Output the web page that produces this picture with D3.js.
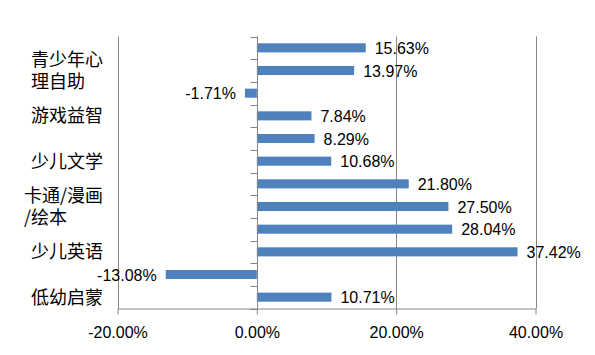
<!DOCTYPE html>
<html>
<head>
<meta charset="utf-8">
<script src="https://cdn.jsdelivr.net/npm/d3@7"></script>
<style>
  html, body { margin: 0; padding: 0; background: #fff; }
  svg { display: block; }
</style>
</head>
<body>
<svg id="chart" width="595" height="355"></svg>
<script>
// Categories listed top to bottom. The original only prints every other
// category label; the hidden ones are given placeholder names.
const categories = [
  "少儿科普百科", "青少年心理自助", "少儿艺术", "游戏益智", "少儿国学", "少儿文学",
  "智力开发", "卡通/漫画/绘本", "幼儿园教材", "少儿英语", "其他", "低幼启蒙"
];
const shownLabels = [
  "", "青少年心理自助", "", "游戏益智", "", "少儿文学",
  "", "卡通/漫画/绘本", "", "少儿英语", "", "低幼启蒙"
];
const values = [
  0.1563, 0.1397, -0.0171, 0.0784, 0.0829, 0.1068,
  0.2180, 0.2750, 0.2804, 0.3742, -0.1308, 0.1071
];
const xTicks = [-0.2, 0, 0.2, 0.4];

(function () {
const svg = d3.select("#chart");
const numFont = "'Liberation Sans', Arial, sans-serif";
const cjkFont = "'Noto Sans CJK SC', 'Liberation Sans', sans-serif";
const axisColor = "#868686";
const barColor = "#4F81BD";
const locale = d3.formatLocale({
  decimal: ".", thousands: ",", grouping: [3], currency: ["", ""],
  minus: "-", percent: "%"
});
const pct = locale.format(".2%");

const x = d3.scaleLinear().domain([-0.2, 0.4]).range([117.5, 535.5]);
const y = d3.scaleBand().domain(categories).range([36.5, 308.5])
  .paddingInner(0.6).paddingOuter(0.3);

const yTop = y.range()[0], yBottom = y.range()[1];

// vertical gridlines
svg.append("g").selectAll("line").data(xTicks.filter(d => d !== 0)).join("line")
  .attr("x1", d => Math.round(x(d)) + 0.5).attr("x2", d => Math.round(x(d)) + 0.5)
  .attr("y1", yTop).attr("y2", yBottom)
  .attr("stroke", axisColor).attr("stroke-width", 1);

// bottom value axis
const xAxis = d3.axisBottom(x).tickValues(xTicks).tickFormat(pct)
  .tickSize(6).tickSizeOuter(0).tickPadding(12);
const gx = svg.append("g").attr("transform", `translate(0,${yBottom})`).call(xAxis);
gx.select(".domain").attr("stroke", axisColor);
gx.selectAll(".tick line").attr("stroke", axisColor);
gx.selectAll(".tick text").attr("font-family", numFont).attr("font-size", 16).attr("fill", "#000");

// bars
const x0 = x(0);
svg.append("g").selectAll("rect").data(values).join("rect")
  .attr("x", d => Math.min(x(d), x0))
  .attr("width", d => Math.abs(x(d) - x0))
  .attr("y", (d, i) => y(categories[i]))
  .attr("height", y.bandwidth())
  .attr("fill", barColor);

// category axis at zero
const zx = Math.round(x0) + 0.5;
svg.append("line").attr("x1", zx).attr("x2", zx).attr("y1", yTop).attr("y2", yBottom)
  .attr("stroke", axisColor);
const boundaries = d3.range(categories.length + 1).map(i => yTop + i * y.step());
svg.append("g").selectAll("line").data(boundaries).join("line")
  .attr("x1", zx - 7).attr("x2", zx)
  .attr("y1", d => Math.round(d) + 0.5).attr("y2", d => Math.round(d) + 0.5)
  .attr("stroke", axisColor);

// data labels
svg.append("g").selectAll("text").data(values).join("text")
  .attr("x", d => d >= 0 ? x(d) + 9 : x(d) - 9)
  .attr("y", (d, i) => y(categories[i]) + y.bandwidth() / 2)
  .attr("dy", "0.38em")
  .attr("text-anchor", d => d >= 0 ? "start" : "end")
  .attr("font-family", numFont).attr("font-size", 16).attr("fill", "#000")
  .text(d => pct(d));

// category labels (wrapped, lines left-aligned, block right-aligned)
const labelRight = 103, maxW = 82, lineH = 22;
const measure = svg.append("text").attr("font-family", cjkFont).attr("font-size", 18);
function w(s) { measure.text(s); return measure.node().getComputedTextLength(); }
function wrap(s) {
  const lines = []; let cur = "";
  for (const ch of s) {
    if (cur && w(cur + ch) > maxW) { lines.push(cur); cur = ch; } else cur += ch;
  }
  if (cur) lines.push(cur);
  return lines;
}
const lg = svg.append("g");
shownLabels.forEach((lab, i) => {
  if (!lab) return;
  const lines = wrap(lab);
  const bw = d3.max(lines, w);
  const cy = y(categories[i]) + y.bandwidth() / 2;
  const t = lg.append("text").attr("font-family", cjkFont).attr("font-size", 18).attr("fill", "#000");
  lines.forEach((ln, k) => {
    t.append("tspan").attr("x", labelRight - bw)
      .attr("y", cy + (k - (lines.length - 1) / 2) * lineH)
      .attr("dy", "0.36em").text(ln);
  });
});
measure.remove();
})();
</script>
</body>
</html>
